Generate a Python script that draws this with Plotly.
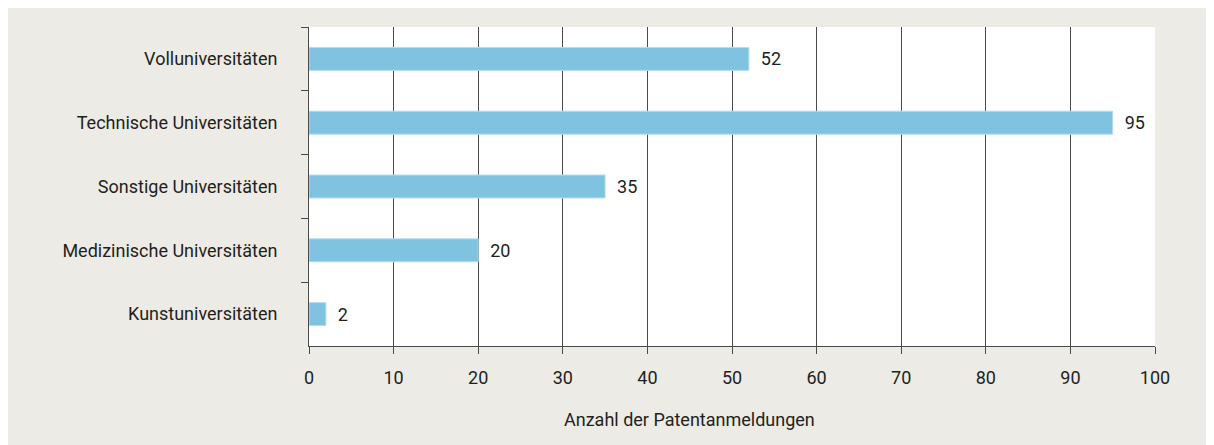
import plotly.graph_objects as go

categories = ["Volluniversitäten", "Technische Universitäten", "Sonstige Universitäten",
              "Medizinische Universitäten", "Kunstuniversitäten"]
values = [52, 95, 35, 20, 2]
x_ticks = [0, 10, 20, 30, 40, 50, 60, 70, 80, 90, 100]
x_title = "Anzahl der Patentanmeldungen"

FONT = "Liberation Sans Narrow, Roboto, Arial, sans-serif"
BEIGE = "#ecebe5"
OFF = 8  # page body offset
W, H = 1214, 445 - OFF
L, T = 309 - OFF, 27 - OFF
pw, ph = 846, 319
R, B = W - L - pw, H - T - ph

fig = go.Figure(go.Bar(
    y=categories, x=values, orientation="h",
    marker=dict(color="#7fc3e1", line=dict(color="#b5dcee", width=1)),
    width=0.36,
    text=[f"  {v}" for v in values], textposition="outside",
    textfont=dict(family=FONT, size=18, color="#231f20"),
    cliponaxis=False,
))

fig.update_layout(
    width=W, height=H,
    margin=dict(l=L, r=R, t=T, b=B),
    paper_bgcolor=BEIGE, plot_bgcolor="white",
    font=dict(family=FONT, size=18, color="#231f20"),
    showlegend=False,
    xaxis=dict(range=[0, 100], tickvals=x_ticks, showgrid=True, gridcolor="#4a4a4a", gridwidth=1,
               zeroline=False, showline=True, linecolor="#4a4a4a", linewidth=1,
               ticks="outside", ticklen=7, tickcolor="#4a4a4a", ticklabelstandoff=8),
    yaxis=dict(autorange="reversed", showgrid=False, showline=True, linecolor="#4a4a4a", linewidth=1,
               ticks="outside", ticklen=7, tickcolor="#4a4a4a", tickson="boundaries",
               ticklabelstandoff=27),
    annotations=[dict(text=x_title, xref="paper", yref="paper", x=(689 - 309) / pw,
                      y=-(419 - 27 - ph) / ph, showarrow=False, xanchor="center", yanchor="middle",
                      font=dict(family=FONT, size=18, color="#231f20"))],
)

fig.write_html("out.html")
